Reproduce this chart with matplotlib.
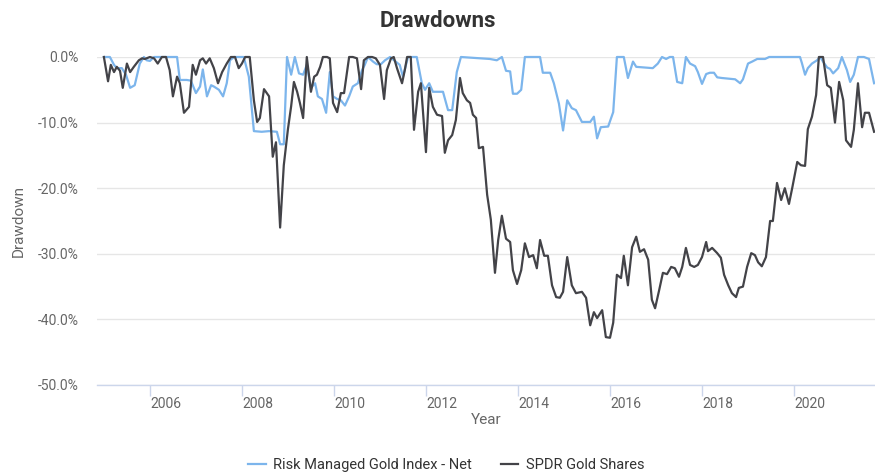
import numpy as np
import matplotlib
matplotlib.use("Agg")
import matplotlib.pyplot as plt
import matplotlib.transforms as mtransforms

plt.rcParams['font.family'] = ['Roboto', 'DejaVu Sans']

# SPDR Gold Shares drawdown (%)
spdr_years = [
    2005.00, 2005.09, 2005.15, 2005.22, 2005.28, 2005.35, 2005.41, 2005.50, 2005.57, 2005.65,
    2005.76, 2005.83, 2005.89, 2006.00, 2006.09, 2006.17, 2006.26, 2006.35, 2006.43, 2006.50,
    2006.59, 2006.65, 2006.74, 2006.85, 2006.93, 2007.00, 2007.09, 2007.15, 2007.22, 2007.30,
    2007.39, 2007.48, 2007.57, 2007.67, 2007.76, 2007.85, 2007.93, 2008.00, 2008.07, 2008.17,
    2008.26, 2008.33, 2008.39, 2008.48, 2008.59, 2008.67, 2008.74, 2008.83, 2008.91, 2009.00,
    2009.07, 2009.13, 2009.20, 2009.26, 2009.33, 2009.41, 2009.50, 2009.57, 2009.63, 2009.70,
    2009.76, 2009.85, 2009.91, 2009.98, 2010.07, 2010.15, 2010.22, 2010.28, 2010.33, 2010.41,
    2010.50, 2010.59, 2010.65, 2010.74, 2010.83, 2010.91, 2011.00, 2011.09, 2011.15, 2011.24,
    2011.30, 2011.37, 2011.48, 2011.54, 2011.59, 2011.67, 2011.74, 2011.83, 2011.89, 2012.00,
    2012.07, 2012.15, 2012.24, 2012.35, 2012.41, 2012.48, 2012.57, 2012.65, 2012.74, 2012.80,
    2012.89, 2012.96, 2013.02, 2013.09, 2013.15, 2013.24, 2013.33, 2013.41, 2013.50, 2013.57,
    2013.65, 2013.74, 2013.83, 2013.89, 2013.98, 2014.07, 2014.15, 2014.24, 2014.33, 2014.41,
    2014.48, 2014.57, 2014.65, 2014.74, 2014.83, 2014.91, 2014.98, 2015.07, 2015.17, 2015.26,
    2015.39, 2015.48, 2015.57, 2015.65, 2015.72, 2015.83, 2015.91, 2016.00, 2016.07, 2016.15,
    2016.24, 2016.30, 2016.39, 2016.48, 2016.57, 2016.65, 2016.74, 2016.83, 2016.91, 2016.98,
    2017.07, 2017.15, 2017.24, 2017.33, 2017.41, 2017.50, 2017.57, 2017.65, 2017.74, 2017.83,
    2017.91, 2018.00, 2018.09, 2018.13, 2018.22, 2018.33, 2018.41, 2018.48, 2018.57, 2018.65,
    2018.74, 2018.80, 2018.89, 2018.98, 2019.07, 2019.15, 2019.22, 2019.30, 2019.39, 2019.48,
    2019.54, 2019.63, 2019.72, 2019.80, 2019.89, 2019.96, 2020.07, 2020.15, 2020.24, 2020.30,
    2020.39, 2020.48, 2020.54, 2020.63, 2020.72, 2020.80, 2020.89, 2020.98, 2021.07, 2021.13,
    2021.24, 2021.30, 2021.39, 2021.48, 2021.54, 2021.63, 2021.74,
]
spdr_dd = [
    0.0, -3.7, -1.2, -2.3, -1.5, -2.1, -4.7, -1.0, -2.3, -1.5,
    -0.5, -0.2, -0.3, 0.0, -0.2, -1.0, 0.0, 0.0, -2.0, -6.0,
    -3.0, -4.0, -8.5, -7.6, -1.2, -2.7, -0.5, -0.2, -1.0, -0.2,
    -1.7, -4.0, -2.3, -1.0, 0.0, 0.0, -1.7, -1.0, 0.0, 0.0,
    -6.6, -9.9, -9.3, -4.9, -6.0, -15.2, -13.0, -26.0, -16.5, -11.0,
    -7.5, -3.8, -5.3, -7.0, -9.3, 0.0, -5.3, -3.0, -2.7, -1.5,
    0.0, 0.0, -0.2, -7.0, -8.4, -5.5, -5.5, -2.5, 0.0, 0.0,
    -0.2, -4.9, -0.5, 0.0, 0.0, -0.2, -1.2, -6.4, -2.0, -0.2,
    0.0, -1.7, -4.0, -2.0, 0.0, 0.0, -11.1, -5.3, -4.0, -14.5,
    -4.7, -7.6, -8.8, -9.0, -14.6, -12.7, -11.9, -9.6, -3.2, -5.5,
    -6.6, -7.0, -8.8, -9.3, -13.9, -13.7, -21.0, -24.8, -32.9, -27.9,
    -24.2, -27.7, -28.2, -32.5, -34.6, -32.5, -28.4, -30.5, -30.2, -32.2,
    -27.9, -30.3, -30.3, -34.8, -36.6, -36.7, -35.8, -30.5, -34.8, -36.0,
    -35.8, -36.7, -40.9, -38.9, -39.8, -38.6, -42.7, -42.8, -40.5, -33.2,
    -33.7, -30.3, -34.8, -29.0, -27.4, -29.7, -29.3, -30.9, -37.0, -38.3,
    -35.5, -32.9, -33.1, -32.0, -32.2, -33.5, -32.0, -29.1, -31.7, -32.0,
    -31.7, -30.5, -28.2, -29.6, -29.1, -29.9, -30.6, -33.2, -34.8, -36.0,
    -36.6, -35.2, -35.0, -32.0, -29.9, -30.2, -31.3, -31.9, -30.5, -25.0,
    -25.0, -19.2, -21.8, -20.0, -22.4, -20.0, -16.0, -16.5, -16.6, -11.0,
    -9.1, -5.8, 0.0, 0.0, -4.3, -4.7, -10.0, -3.8, -6.6, -12.7,
    -13.7, -11.1, -4.0, -10.7, -8.5, -8.5, -11.4,
]

# Risk Managed Gold Index - Net drawdown (%)
rmg_years = [
    2005.00, 2005.13, 2005.22, 2005.28, 2005.39, 2005.48, 2005.57, 2005.67, 2005.78, 2005.87,
    2005.93, 2006.00, 2006.09, 2006.59, 2006.65, 2006.80, 2006.89, 2007.00, 2007.09, 2007.15,
    2007.24, 2007.33, 2007.39, 2007.50, 2007.59, 2007.67, 2007.74, 2007.83, 2008.04, 2008.15,
    2008.26, 2008.43, 2008.59, 2008.76, 2008.83, 2008.91, 2008.98, 2009.07, 2009.15, 2009.24,
    2009.33, 2009.41, 2009.50, 2009.59, 2009.65, 2009.74, 2009.83, 2009.91, 2009.98, 2010.07,
    2010.15, 2010.24, 2010.33, 2010.41, 2010.52, 2010.61, 2010.67, 2010.74, 2010.85, 2010.93,
    2011.02, 2011.11, 2011.22, 2011.43, 2011.50, 2011.61, 2011.80, 2011.91, 2011.98, 2012.07,
    2012.15, 2012.37, 2012.48, 2012.57, 2012.67, 2012.76, 2013.39, 2013.54, 2013.65, 2013.74,
    2013.83, 2013.89, 2013.98, 2014.07, 2014.15, 2014.48, 2014.54, 2014.70, 2014.78, 2014.89,
    2014.98, 2015.07, 2015.17, 2015.26, 2015.39, 2015.57, 2015.65, 2015.72, 2015.80, 2015.96,
    2016.07, 2016.15, 2016.30, 2016.39, 2016.50, 2016.57, 2016.93, 2017.04, 2017.13, 2017.22,
    2017.30, 2017.37, 2017.46, 2017.57, 2017.65, 2017.74, 2017.85, 2017.91, 2018.00, 2018.09,
    2018.17, 2018.26, 2018.33, 2018.43, 2018.72, 2018.83, 2018.89, 2019.00, 2019.09, 2019.20,
    2019.37, 2019.46, 2020.13, 2020.17, 2020.24, 2020.30, 2020.39, 2020.50, 2020.57, 2020.63,
    2020.72, 2020.78, 2020.85, 2020.96, 2021.04, 2021.15, 2021.22, 2021.30, 2021.39, 2021.52,
    2021.63, 2021.74,
]
rmg_dd = [
    0.0, 0.0, -1.2, -1.7, -1.7, -2.7, -4.7, -4.3, -1.0, 0.0,
    -0.5, -0.6, 0.0, 0.0, -3.5, -3.5, -3.6, -5.5, -4.5, -1.9,
    -6.0, -4.3, -4.5, -5.0, -6.0, -4.0, -0.5, 0.0, 0.0, -3.0,
    -11.3, -11.4, -11.3, -11.4, -13.3, -13.3, 0.0, -2.7, 0.0, -2.5,
    -2.7, -1.2, -4.7, -4.0, -6.0, -6.4, -8.5, -2.3, -6.0, -6.4,
    -6.6, -7.4, -6.0, -4.5, -4.0, -2.0, -1.2, 0.0, -0.7, -1.1,
    -1.1, -0.5, 0.0, -1.2, -3.0, 0.0, 0.0, -4.0, -5.0, -4.0,
    -5.3, -5.3, -8.1, -8.1, -2.3, 0.0, -0.3, -0.5, 0.0, -2.1,
    -2.2, -5.6, -5.6, -5.0, 0.0, 0.0, -2.4, -2.4, -4.0, -7.1,
    -11.2, -6.6, -7.8, -8.1, -9.9, -9.9, -9.1, -12.4, -10.7, -10.6,
    -8.4, 0.0, 0.0, -3.2, -0.7, -1.5, -1.7, -1.0, 0.0, -0.3,
    0.0, 0.0, -3.8, -4.0, 0.0, -1.0, -1.4, -2.3, -4.1, -2.6,
    -2.4, -2.4, -3.1, -3.2, -3.4, -4.0, -3.4, -1.0, -0.7, -0.3,
    -0.3, 0.0, 0.0, -0.9, -2.7, -1.7, -1.0, -0.5, 0.0, -0.7,
    -1.6, -1.8, -2.5, -1.7, 0.0, -2.0, -3.8, -2.7, 0.0, 0.0,
    -0.3, -4.0,
]

year_ticks = [2006, 2008, 2010, 2012, 2014, 2016, 2018, 2020]
y_ticks = [0, -10, -20, -30, -40, -50]

fig = plt.figure(figsize=(8.75, 4.72), dpi=100)
ax = fig.add_axes([97 / 875, 1 - 385 / 472, 778 / 875, 328 / 472])

ax.plot(rmg_years, rmg_dd, color="#7cb5ec", lw=1.6, clip_on=False,
        label="Risk Managed Gold Index - Net", zorder=3)
ax.plot(spdr_years, spdr_dd, color="#434348", lw=1.6, clip_on=False,
        label="SPDR Gold Shares", zorder=4)

ax.set_xlim(2004.85, 2021.76)
ax.set_ylim(-50, 0)

ax.set_yticks(y_ticks)
ax.set_yticklabels([f"{v:.1f}%" for v in y_ticks])
ax.grid(axis="y", color="#e6e6e6", lw=1)
ax.set_axisbelow(True)

ax.set_xticks(year_ticks)
ax.set_xticklabels([str(y) for y in year_ticks])
offset = mtransforms.ScaledTranslation(4 / 100, 0, fig.dpi_scale_trans)
for lab in ax.get_xticklabels():
    lab.set_horizontalalignment("left")
    lab.set_transform(lab.get_transform() + offset)

for s in ["top", "right", "left"]:
    ax.spines[s].set_visible(False)
ax.spines["bottom"].set_color("#ccd6eb")
ax.spines["bottom"].set_linewidth(1)
ax.tick_params(axis="x", length=8, color="#ccd6eb", width=1, pad=0.5,
               labelsize=10, labelcolor="#666666")
ax.tick_params(axis="y", length=0, pad=13, labelsize=10, labelcolor="#666666")

ax.set_xlabel("Year", fontsize=11, color="#666666")
ax.xaxis.set_label_coords(0.5, -0.085)
ax.set_ylabel("Drawdown", fontsize=11, color="#666666")
ax.yaxis.set_label_coords(-0.091, 0.5)

fig.text(0.5, 1 - 21 / 472, "Drawdowns", ha="center", va="center",
         fontsize=16, fontweight="bold", color="#333333")

fig.legend(loc="center", bbox_to_anchor=(0.51, 1 - 465 / 472), ncol=2,
           frameon=False, fontsize=10.5, handlelength=1.2, columnspacing=2.0,
           handletextpad=0.5, labelcolor="#333333")

fig.savefig("out.png", dpi=100)
